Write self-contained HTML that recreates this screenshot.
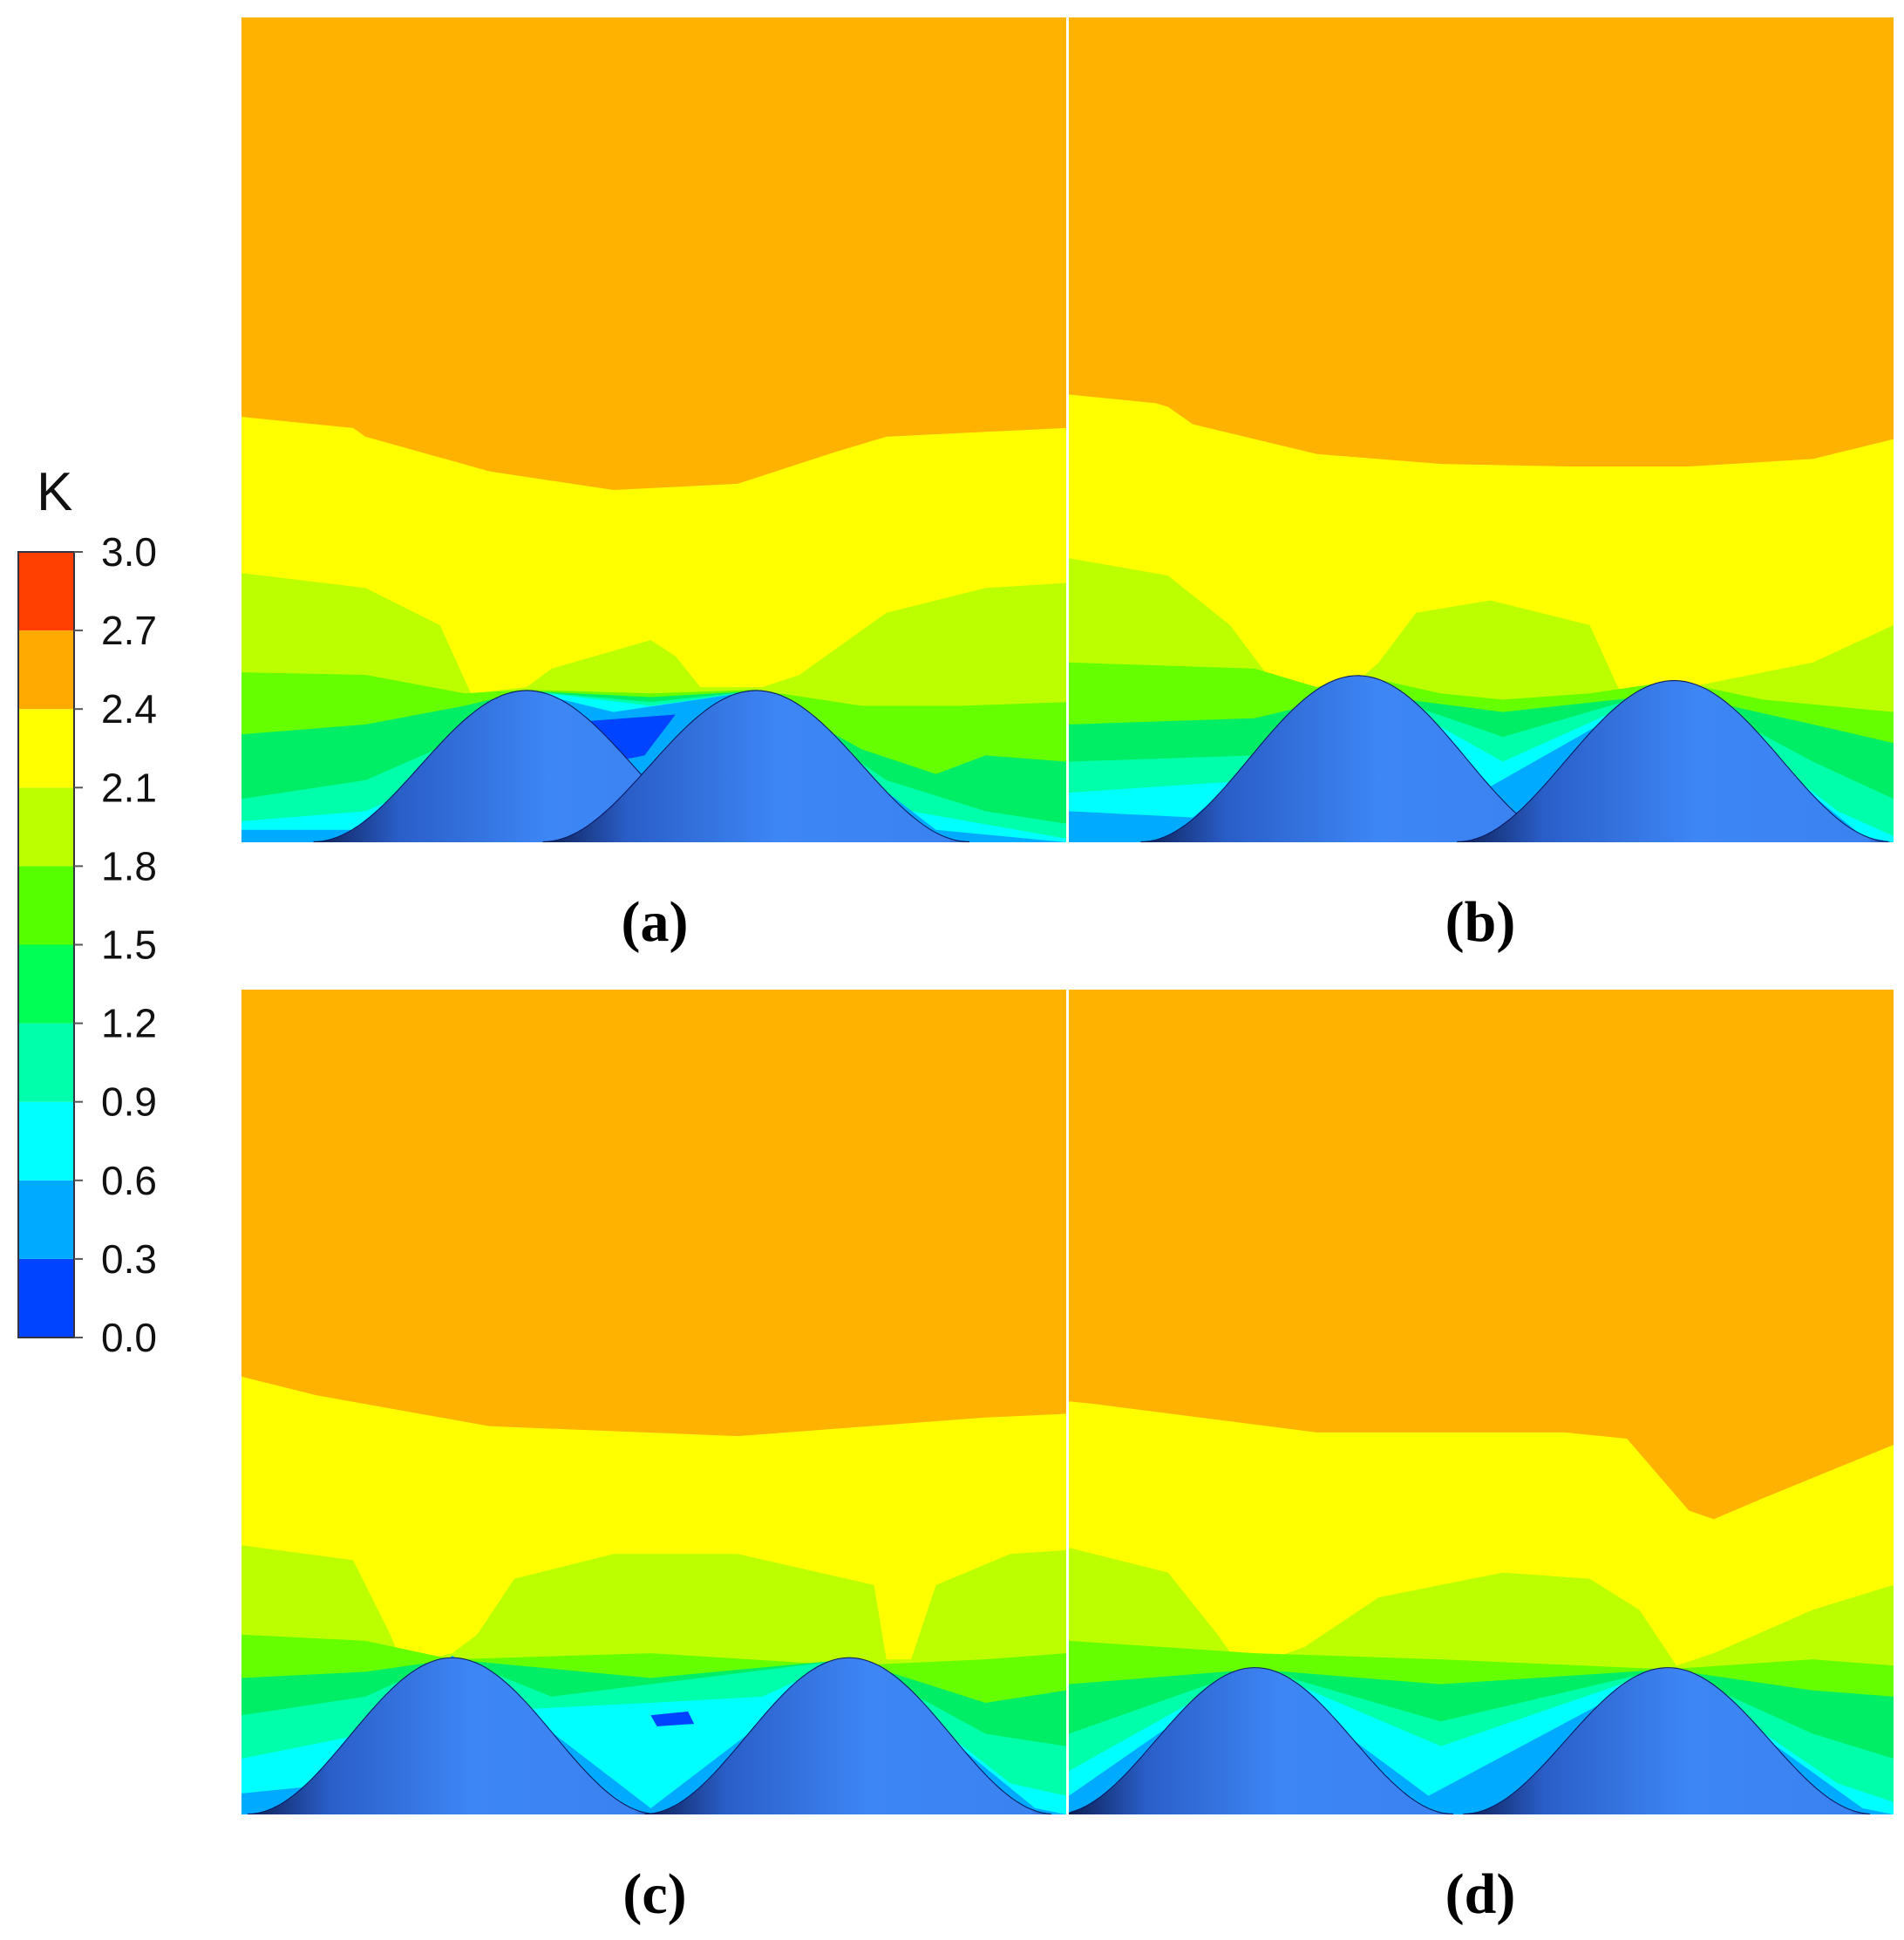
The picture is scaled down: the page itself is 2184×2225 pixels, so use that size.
<!DOCTYPE html>
<html><head><meta charset="utf-8">
<style>
html,body{margin:0;padding:0;background:#fff;}
body{width:2184px;height:2225px;position:relative;overflow:hidden;font-family:"Liberation Sans",sans-serif;}
.panel{position:absolute;width:946px;height:946px;}
.plabel{position:absolute;font-family:"Liberation Serif",serif;font-weight:bold;font-size:66px;width:200px;text-align:center;}
</style></head><body>
<svg id="cbar" style="position:absolute;left:0;top:0" width="270" height="1600"></svg>
<svg id="pa" class="panel" style="left:277px;top:20px" viewBox="0 0 665 665" preserveAspectRatio="none"></svg>
<svg id="pb" class="panel" style="left:1226px;top:20px" viewBox="0 0 665 665" preserveAspectRatio="none"></svg>
<svg id="pc" class="panel" style="left:277px;top:1135px" viewBox="0 0 665 665" preserveAspectRatio="none"></svg>
<svg id="pd" class="panel" style="left:1226px;top:1135px" viewBox="0 0 665 665" preserveAspectRatio="none"></svg>
<div class="plabel" style="left:651px;top:1020px">(a)</div>
<div class="plabel" style="left:1598px;top:1020px">(b)</div>
<div class="plabel" style="left:651px;top:2135px">(c)</div>
<div class="plabel" style="left:1598px;top:2135px">(d)</div>
<script>
const NS="http://www.w3.org/2000/svg";
const cbarTicks=["0.0","0.3","0.6","0.9","1.2","1.5","1.8","2.1","2.4","2.7","3.0"];
const cbarColors=["#0044ff","#00aaff","#00ffff","#00ffaa","#00ff55","#55ff00","#bbff00","#ffff00","#ffaa00","#ff4000"];
const bandColors=["#ffff00","#bbff00","#66ff00","#00ee66","#00ffaa","#00ffff","#00aaff"];
// panel contour boundaries (panel units 0..665)
const orangeA=[[0,322],[90,331],[100,338],[200,366],[300,381],[400,376],[480,350],[520,338],[665,331]];
const yellowA=[[0,448],[100,460],[160,490],[185,545],[230,540],[250,525],[330,502],[350,515],[370,540],[420,540],[450,530],[520,480],[600,460],[665,456]];
const lgA=[[0,528],[100,530],[180,545],[230,542],[330,545],[415,542],[500,555],[580,555],[665,552]];
const greenA=[[0,578],[100,570],[180,555],[230,543],[330,548],[415,543],[500,590],[560,610],[600,595],[665,600]];
const springA=[[0,630],[100,615],[180,580],[230,543],[330,552],[415,543],[520,615],[600,640],[665,650]];
const tealA=[[0,648],[100,640],[180,605],[230,543],[330,555],[415,543],[540,640],[665,662]];
const cyanA=[[0,655],[100,655],[230,543],[300,560],[415,543],[560,655],[665,665]];
const hillsA=[[230,543,172],[415,543,172]];
const orangeB=[[0,304],[70,311],[80,314],[100,328],[200,352],[300,360],[400,362],[500,362],[600,356],[665,340]];
const yellowB=[[0,436],[80,450],[130,490],[175,550],[233,535],[250,520],[280,480],[340,470],[420,490],[445,545],[500,540],[600,520],[665,490]];
const lgB=[[0,520],[150,525],[200,540],[233,530],[300,545],[350,550],[420,545],[488,535],[560,550],[665,560]];
const greenB=[[0,570],[150,565],[233,545],[350,560],[488,545],[600,570],[665,585]];
const springB=[[0,600],[150,595],[233,540],[350,580],[488,540],[600,600],[665,630]];
const tealB=[[0,625],[150,615],[233,535],[350,600],[488,538],[620,640],[665,660]];
const cyanB=[[0,640],[100,645],[233,532],[340,620],[488,536],[640,660],[665,665]];
const hillsB=[[233,531,175],[488,535,175]];
const orangeC=[[0,312],[60,327],[200,352],[400,360],[600,345],[665,342]];
const yellowC=[[0,448],[90,460],[120,520],[130,545],[170,535],[190,520],[220,475],[300,455],[400,455],[510,480],[520,540],[540,540],[560,480],[620,455],[665,452]];
const lgC=[[0,520],[100,525],[170,540],[330,535],[490,545],[600,540],[665,535]];
const greenC=[[0,555],[100,550],[170,540],[330,555],[490,540],[600,575],[665,565]];
const springC=[[0,585],[100,570],[170,538],[250,570],[330,560],[490,540],[600,600],[665,610]];
const tealC=[[0,620],[100,600],[170,537],[230,580],[330,575],[420,570],[490,538],[620,640],[665,650]];
const cyanC=[[0,648],[80,640],[170,537],[330,660],[490,538],[640,660],[665,665]];
const hillsC=[[170,539,165],[490,539,165]];
const orangeD=[[0,332],[20,334],[200,357],[400,357],[450,362],[500,420],[520,427],[560,410],[665,367]];
const yellowD=[[0,450],[80,470],[120,520],[140,548],[190,530],[250,490],[350,470],[420,475],[460,500],[490,545],[520,535],[600,500],[665,480]];
const lgD=[[0,525],[150,535],[300,540],[483,548],[600,540],[665,545]];
const greenD=[[0,560],[150,548],[300,560],[483,548],[600,565],[665,570]];
const springD=[[0,600],[150,547],[300,590],[483,547],[600,600],[665,620]];
const tealD=[[0,630],[150,546],[300,610],[483,547],[620,640],[665,655]];
const cyanD=[[0,650],[150,546],[290,650],[483,547],[640,660],[665,665]];
const hillsD=[[150,547,160],[483,547,165]];

function mk(tag,attrs,parent){const e=document.createElementNS(NS,tag);for(const k in attrs)e.setAttribute(k,attrs[k]);parent.appendChild(e);return e;}

// colorbar
(function(){
  const s=document.getElementById('cbar');
  const top=633,bot=1534,x0=21,x1=85,n=cbarColors.length,h=(bot-top)/n;
  const yv=v=>bot-(v/3.0)*(bot-top);
  cbarColors.forEach((c,i)=>{
    const r=mk('rect',{x:x0,y:yv((i+1)*0.3),width:x1-x0,height:h,fill:c},s);
    
    
  });
  mk('rect',{x:x0,y:top,width:x1-x0,height:bot-top,fill:'none',stroke:'#334',"stroke-width":2},s);
  cbarTicks.forEach((t,i)=>{
    const y=yv(parseFloat(t));
    mk('line',{x1:x1,x2:x1+10,y1:y,y2:y,stroke:'#555',"stroke-width":2},s);
    const tx=mk('text',{x:116,y:y+16,"font-size":46,fill:'#111',"font-family":"Liberation Sans, sans-serif"},s);
    tx.textContent=t;
    
    
  });
  const k=mk('text',{x:42,y:585,"font-size":62,fill:'#111',"font-family":"Liberation Sans, sans-serif"},s);
  k.textContent='K';
  
  
})();

function linePath(pts){return 'M'+pts.map(p=>p[0]+','+p[1]).join(' L')+' L665,665 L0,665 Z';}
function drawPanel(id,orange,lines,hills,extra){
  const s=document.getElementById(id);
  const defs=mk('defs',{},s);
  const g=mk('linearGradient',{id:id+'g',x1:0,y1:0,x2:1,y2:0},defs);
  mk('stop',{offset:'0',"stop-color":'#0d1f55'},g);
  mk('stop',{offset:'0.2',"stop-color":'#2a5ec8'},g);
  mk('stop',{offset:'0.55',"stop-color":'#3d86f5'},g);
  mk('stop',{offset:'0.95',"stop-color":'#3a82f0'},g);
  mk('stop',{offset:'1',"stop-color":'#1d3f9a'},g);
  const bg=mk('rect',{x:0,y:0,width:665,height:665,fill:'#ffb300'},s);
  
  
  const all=[orange].concat(lines);
  all.forEach((L,i)=>{
    const p=mk('path',{d:linePath(L),fill:bandColors[i]},s);
    
    
  });
  if(extra){const p=mk('path',{d:extra,fill:'#0044ff'},s);
    
    }
  hills.forEach(hh=>{
    const [c,py,w]=hh;const pts=[];
    for(let x=c-w;x<=c+w+0.1;x+=4){
      const y=665-(665-py)*(0.5+0.5*Math.cos(Math.PI*(x-c)/w));
      pts.push([Math.max(0,Math.min(665,x)),y]);
    }
    const d='M'+pts.map(p=>p[0].toFixed(1)+','+p[1].toFixed(1)).join(' L')+' Z';
    mk('path',{d:d,fill:'#1a3aa0',stroke:'#0a1a60',"stroke-width":1.5},s);
    const hp=mk('path',{d:d,fill:'url(#'+id+'g)'},s);
    
    
  });
}
drawPanel('pa',orangeA,[yellowA,lgA,greenA,springA,tealA,cyanA],hillsA,'M270,568 L350,562 L325,595 L310,598 Z');
drawPanel('pb',orangeB,[yellowB,lgB,greenB,springB,tealB,cyanB],hillsB,null);
drawPanel('pc',orangeC,[yellowC,lgC,greenC,springC,tealC,cyanC],hillsC,'M330,585 L360,582 L365,592 L335,594 Z');
drawPanel('pd',orangeD,[yellowD,lgD,greenD,springD,tealD,cyanD],hillsD,null);
</script>
</body></html>
